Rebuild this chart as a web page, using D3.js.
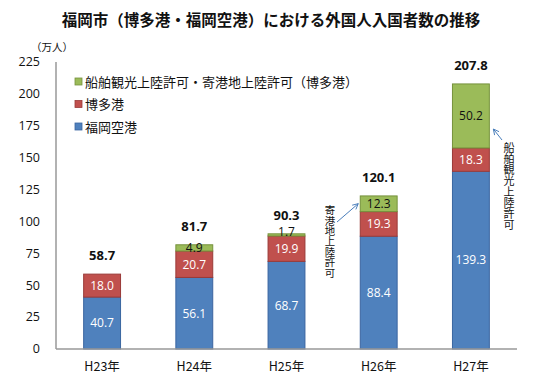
<!DOCTYPE html>
<html>
<head>
<meta charset="utf-8">
<script src="https://cdn.jsdelivr.net/npm/d3@7"></script>
<style>
  body { margin: 0; background: #fff; }
  text { font-family: "Open Sans", "Noto Sans CJK JP", sans-serif; fill: #111; }
  .jp { font-family: "Noto Sans CJK JP", sans-serif; }
</style>
</head>
<body>
<svg id="chart" width="535" height="385"></svg>
<script>
var years = ['H23年', 'H24年', 'H25年', 'H26年', 'H27年'];
var airport = [40.7, 56.1, 68.7, 88.4, 139.3];
var hakata = [18.0, 20.7, 19.9, 19.3, 18.3];
var cruise = [0, 4.9, 1.7, 12.3, 50.2];
var totals = [58.7, 81.7, 90.3, 120.1, 207.8];
var yTicks = [0, 25, 50, 75, 100, 125, 150, 175, 200, 225];

var seriesNames = ['船舶観光上陸許可・寄港地上陸許可（博多港）', '博多港', '福岡空港'];

var svg = d3.select('#chart');
var plotLeft = 56, plotRight = 517, plotTop = 62, plotBottom = 349;

var x = d3.scaleBand().domain(years).range([plotLeft, plotRight]).paddingInner(0.6).paddingOuter(0.3);
var y = d3.scaleLinear().domain([0, 225]).range([plotBottom, plotTop]);

var colors = { airport: '#4f81bd', hakata: '#c0504d', cruise: '#9bbb59' };
var strokes = { airport: '#3a65a0', hakata: '#9a3a38', cruise: '#76923c' };

// title
svg.append('text')
    .attr('class', 'jp')
    .attr('x', 271).attr('y', 26)
    .attr('text-anchor', 'middle')
    .style('font-size', '15.5px')
    .style('font-weight', 'bold')
    .text('福岡市（博多港・福岡空港）における外国人入国者数の推移');

svg.append('text')
    .attr('class', 'jp')
    .attr('x', 52).attr('y', 51)
    .attr('text-anchor', 'middle')
    .style('font-size', '10.5px')
    .text('（万人）');

// y axis labels
svg.append('g').selectAll('text')
    .data(yTicks)
    .enter().append('text')
    .attr('x', 40)
    .attr('y', function (d) { return y(d); })
    .attr('dy', '0.35em')
    .attr('text-anchor', 'end')
    .style('font-size', '12.5px')
    .text(function (d) { return d; });

// stacked data
var rows = years.map(function (yr, i) {
    return { year: yr, airport: airport[i], hakata: hakata[i], cruise: cruise[i], total: totals[i] };
});
var keys = ['airport', 'hakata', 'cruise'];
var stack = d3.stack().keys(keys)(rows);

var layers = svg.append('g').selectAll('g')
    .data(stack)
    .enter().append('g');

layers.selectAll('rect')
    .data(function (s) { return s.filter(function (d) { return d[1] - d[0] > 0; }).map(function (d) { d.key = s.key; return d; }); })
    .enter().append('rect')
    .attr('x', function (d) { return x(d.data.year); })
    .attr('width', x.bandwidth())
    .attr('y', function (d) { return y(d[1]); })
    .attr('height', function (d) { return y(d[0]) - y(d[1]); })
    .attr('fill', function (d) { return colors[d.key]; })
    .attr('stroke', function (d) { return strokes[d.key]; })
    .attr('stroke-width', 1);

// segment labels (tiny segments get their label on the top edge)
layers.selectAll('text')
    .data(function (s) { return s.filter(function (d) { return d[1] - d[0] > 0; }); })
    .enter().append('text')
    .attr('x', function (d) { return x(d.data.year) + x.bandwidth() / 2; })
    .attr('y', function (d) {
        var mid = (y(d[0]) + y(d[1])) / 2;
        return d[1] - d[0] < 3 ? y(d[1]) - 2 : mid;
    })
    .attr('dy', '0.36em')
    .attr('text-anchor', 'middle')
    .style('font-size', '12px')
    .style('fill', function (d) { return d.key === 'cruise' ? '#111' : '#fff'; })
    .text(function (d) { return (d[1] - d[0]).toFixed(1); });

// totals
svg.append('g').selectAll('text')
    .data(rows)
    .enter().append('text')
    .attr('x', function (d) { return x(d.year) + x.bandwidth() / 2; })
    .attr('y', function (d) { return y(d.total) - 14; })
    .attr('text-anchor', 'middle')
    .style('font-size', '13px')
    .style('font-weight', 'bold')
    .text(function (d) { return d.total.toFixed(1); });

// axes lines
svg.append('line')
    .attr('x1', plotLeft).attr('x2', plotLeft).attr('y1', plotTop).attr('y2', plotBottom)
    .attr('stroke', '#999').attr('stroke-width', 1.5);
svg.append('line')
    .attr('x1', plotLeft).attr('x2', plotRight).attr('y1', plotBottom).attr('y2', plotBottom)
    .attr('stroke', '#999').attr('stroke-width', 1.5);

// x labels
svg.append('g').selectAll('text')
    .data(years)
    .enter().append('text')
    .attr('class', 'jp')
    .attr('x', function (d) { return x(d) + x.bandwidth() / 2; })
    .attr('y', 367)
    .attr('dy', '0.35em')
    .attr('text-anchor', 'middle')
    .style('font-size', '12.5px')
    .text(function (d) { return d; });

// legend
var legendColors = [colors.cruise, colors.hakata, colors.airport];
var legendStrokes = [strokes.cruise, strokes.hakata, strokes.airport];
var legend = svg.append('g').selectAll('g')
    .data(seriesNames)
    .enter().append('g')
    .attr('transform', function (d, i) { return 'translate(75,' + (82 + i * 22.5) + ')'; });
legend.append('rect')
    .attr('x', 0).attr('y', -4).attr('width', 7).attr('height', 7)
    .attr('fill', function (d, i) { return legendColors[i]; })
    .attr('stroke', function (d, i) { return legendStrokes[i]; })
    .attr('stroke-width', 0.8);
legend.append('text')
    .attr('class', 'jp')
    .attr('x', 10).attr('dy', '0.35em')
    .style('font-size', '13px')
    .text(function (d) { return d; });

// annotations (vertical text + arrows)
svg.append('defs').append('marker')
    .attr('id', 'arrow')
    .attr('viewBox', '0 0 10 10')
    .attr('refX', 9).attr('refY', 5)
    .attr('markerWidth', 7).attr('markerHeight', 7)
    .attr('orient', 'auto')
    .append('path')
    .attr('d', 'M1,1 L9,5 L1,9')
    .attr('fill', 'none')
    .attr('stroke', '#4a7ebb')
    .attr('stroke-width', 1.3);

// vertical japanese text
function vertical(str, cx, yTop, size) {
    svg.append('text')
        .attr('class', 'jp')
        .attr('x', cx)
        .attr('y', yTop)
        .style('writing-mode', 'vertical-rl')
        .style('font-size', size + 'px')
        .text(str);
}

var h26 = x('H26年');
svg.append('line')
    .attr('x1', 337).attr('y1', 222)
    .attr('x2', h26 - 2).attr('y2', (y(totals[3]) + y(totals[3] - cruise[3])) / 2)
    .attr('stroke', '#4a7ebb').attr('stroke-width', 1)
    .attr('marker-end', 'url(#arrow)');
vertical('寄港地上陸許可', 330, 205, 10.4);

var h27 = x('H27年') + x.bandwidth();
svg.append('line')
    .attr('x1', 502).attr('y1', 140)
    .attr('x2', h27 + 4).attr('y2', 129)
    .attr('stroke', '#4a7ebb').attr('stroke-width', 1)
    .attr('marker-end', 'url(#arrow)');
vertical('船舶観光上陸許可', 509, 142.5, 11);
</script>
</body>
</html>
